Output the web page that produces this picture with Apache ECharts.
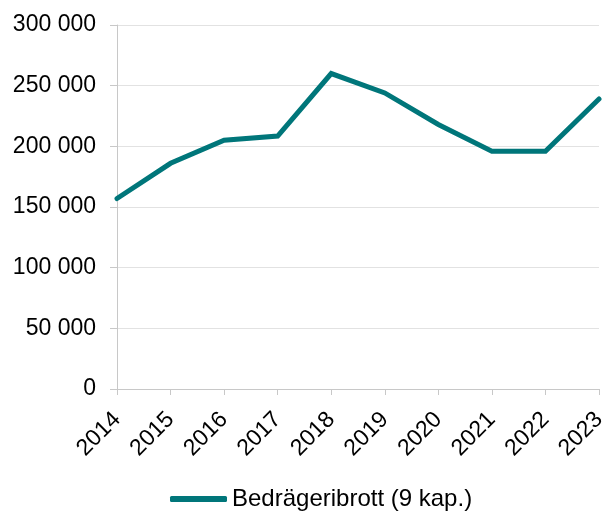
<!DOCTYPE html>
<html>
<head>
<meta charset="utf-8">
<script src="https://cdn.jsdelivr.net/npm/echarts@6/dist/echarts.min.js"></script>
<style>
  html, body { margin: 0; padding: 0; background: #ffffff; }
  #chart { width: 603px; height: 511px; }
</style>
</head>
<body>
<div id="chart"></div>
<script>
// Anmälda bedrägeribrott per år
const years = ['2014', '2015', '2016', '2017', '2018', '2019', '2020', '2021', '2022', '2023'];
const fraudOffences = [157000, 186000, 205000, 208500, 260000, 244000, 218000, 196000, 196000, 239000];
const seriesName = 'Bedrägeribrott (9 kap.)';

const FONT = '"Liberation Sans", Arial, sans-serif';
const LINE_COLOR = '#00767a';

function spaced(v) {
  return String(v).replace(/\B(?=(\d{3})+(?!\d))/g, ' ');
}

const chart = echarts.init(document.getElementById('chart'), null, { renderer: 'canvas' });

chart.setOption({
  animation: false,
  backgroundColor: '#ffffff',
  grid: { left: 117, right: 4, top: 25, bottom: 122, containLabel: false, outerBoundsMode: 'none' },
  legend: {
    left: 165,
    top: 482,
    icon: 'roundRect',
    itemWidth: 57,
    itemHeight: 6,
    itemGap: 10,
    textStyle: { fontFamily: FONT, fontSize: 24, color: '#000000' },
    data: [seriesName]
  },
  xAxis: {
    type: 'category',
    data: years,
    boundaryGap: false,
    axisLine: { lineStyle: { color: '#c8c8c8', width: 1 } },
    axisTick: { show: true, length: 6, alignWithLabel: true, lineStyle: { color: '#c8c8c8' } },
    axisLabel: {
      rotate: 45,
      margin: 27,
      fontFamily: FONT,
      fontSize: 23,
      color: '#000000',
      interval: 0
    },
    splitLine: { show: false }
  },
  yAxis: {
    type: 'value',
    min: 0,
    max: 300000,
    interval: 50000,
    axisLine: { show: true, lineStyle: { color: '#c8c8c8', width: 1 } },
    axisTick: { show: true, length: 7, lineStyle: { color: '#c8c8c8' } },
    axisLabel: {
      margin: 21,
      fontFamily: FONT,
      fontSize: 23,
      color: '#000000',
      formatter: spaced
    },
    splitLine: { show: true, lineStyle: { color: '#e2e2e2', width: 1 } }
  },
  series: [{
    name: seriesName,
    type: 'line',
    data: fraudOffences,
    symbol: 'none',
    showSymbol: false,
    color: LINE_COLOR,
    lineStyle: { color: LINE_COLOR, width: 5, cap: 'round', join: 'miter' },
    itemStyle: { color: LINE_COLOR }
  }]
});
</script>
</body>
</html>
